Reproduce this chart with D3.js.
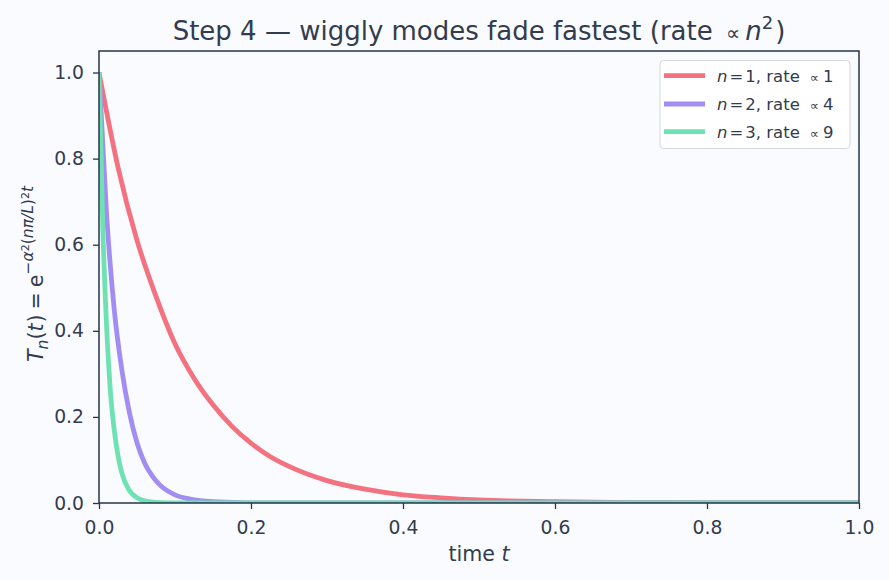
<!DOCTYPE html>
<html><head><meta charset="utf-8">
<script src="https://cdn.jsdelivr.net/npm/d3@7/dist/d3.min.js"></script>
<style>
html,body{margin:0;padding:0;background:#fafbfe;}
svg{display:block;font-family:"DejaVu Sans",sans-serif;}
</style></head>
<body><svg id="c" width="889" height="580"></svg>
<script>
// ---- data ----
const seriesNames = ["n1", "n2", "n3"];
const n1T = [0, 0.025, 0.05, 0.075, 0.1, 0.125, 0.15, 0.175, 0.2, 0.225, 0.25, 0.3, 0.35, 0.4, 0.45, 0.5, 0.6, 0.7, 0.8, 0.9, 1.0];
const n1Y = [1.0, 0.78, 0.61, 0.48, 0.37, 0.29, 0.228, 0.178, 0.139, 0.108, 0.085, 0.052, 0.032, 0.019, 0.012, 0.007, 0.003, 0.001, 0.0004, 0.0001, 0.0001];
const n2T = [0, 0.01, 0.02, 0.03, 0.04, 0.05, 0.06, 0.07, 0.08, 0.1, 0.12, 0.15, 0.2, 0.3, 1.0];
const n2Y = [1.0, 0.67, 0.45, 0.31, 0.21, 0.14, 0.093, 0.063, 0.042, 0.019, 0.009, 0.003, 0.0004, 0, 0];
const n3T = [0, 0.005, 0.01, 0.015, 0.02, 0.025, 0.03, 0.04, 0.05, 0.06, 0.08, 0.1, 1.0];
const n3Y = [1.0, 0.64, 0.41, 0.26, 0.17, 0.11, 0.07, 0.029, 0.012, 0.005, 0.001, 0.0001, 0];
const legendN = ["1", "2", "3"];
const legendRate = ["1", "4", "9"];
const xTicks = [0, 0.2, 0.4, 0.6, 0.8, 1.0];
const yTicks = [0, 0.2, 0.4, 0.6, 0.8, 1.0];
const colors = ["#f4717f", "#a28ef2", "#6fe2b3"];

const svg = d3.select("#c");
const L = 99, R = 859, T = 51, B = 503;
const x = d3.scaleLinear().domain([0, 1]).range([L, R]);
const y = d3.scaleLinear().domain([0, 1.05]).range([B, T]);
const ink = "#333c4e", frame = "#27344d";
const tickFS = 18.75, labelFS = 20.6, titleFS = 26, legendFS = 16.5;

svg.append("rect").attr("width", 889).attr("height", 580).attr("fill", "#fafbfe");

svg.append("defs").append("clipPath").attr("id", "clip")
  .append("rect").attr("x", L).attr("y", T).attr("width", R - L).attr("height", B - T);

const data = [
  n1T.map((t, i) => [t, n1Y[i]]),
  n2T.map((t, i) => [t, n2Y[i]]),
  n3T.map((t, i) => [t, n3Y[i]])
];
const line = d3.line().x(d => x(d[0])).y(d => y(d[1])).curve(d3.curveMonotoneX);
const g = svg.append("g").attr("clip-path", "url(#clip)");
data.forEach((d, i) => {
  g.append("path").datum(d).attr("d", line).attr("fill", "none")
    .attr("stroke", colors[i]).attr("stroke-width", 4.8).attr("stroke-linejoin", "round");
});

// axes
const xa = svg.append("g").attr("transform", `translate(0,${B})`)
  .call(d3.axisBottom(x).tickValues(xTicks).tickFormat(d3.format(".1f")).tickSize(6).tickPadding(6));
const ya = svg.append("g").attr("transform", `translate(${L},0)`)
  .call(d3.axisLeft(y).tickValues(yTicks).tickFormat(d3.format(".1f")).tickSize(6).tickPadding(9));
[xa, ya].forEach(a => {
  a.select(".domain").remove();
  a.selectAll("line").attr("stroke", frame).attr("stroke-width", 1.3);
  a.selectAll("text").attr("fill", ink).attr("font-size", tickFS).attr("font-family", "DejaVu Sans");
});
xa.selectAll("text").attr("dy", "1.0em");

// frame
svg.append("rect").attr("x", L).attr("y", T).attr("width", R - L).attr("height", B - T)
  .attr("fill", "none").attr("stroke", frame).attr("stroke-width", 1.5);

// title
const title = svg.append("text").attr("x", (L + R) / 2).attr("y", 40).attr("text-anchor", "middle")
  .attr("fill", ink).attr("font-size", titleFS);
title.append("tspan").text("Step 4 — wiggly modes fade fastest (rate ");
title.append("tspan").text("\u221D").attr("font-size", 20).attr("dx", 5);
title.append("tspan").text("n").attr("font-style", "italic").attr("dx", 5);
title.append("tspan").text("2").attr("font-size", 18).attr("dy", -11);
title.append("tspan").text(")").attr("dy", 11).attr("dx", 2);

// x label
const xl = svg.append("text").attr("x", (L + R) / 2).attr("y", 561).attr("text-anchor", "middle")
  .attr("fill", ink).attr("font-size", labelFS);
xl.append("tspan").text("time ");
xl.append("tspan").text("t").attr("font-style", "italic");

// y label
const sm = 15.5, tiny = 11;
const yl = svg.append("text").attr("transform", "translate(43,274) rotate(-90)").attr("text-anchor", "middle")
  .attr("fill", ink).attr("font-size", labelFS);
yl.append("tspan").text("T").attr("font-style", "italic");
yl.append("tspan").text("n").attr("font-style", "italic").attr("font-size", sm).attr("dy", 5);
yl.append("tspan").text("(").attr("dy", -5);
yl.append("tspan").text("t").attr("font-style", "italic");
yl.append("tspan").text(")").attr("dx", 1);
yl.append("tspan").text("=").attr("dx", 5);
yl.append("tspan").text("e").attr("dx", 5);
yl.append("tspan").text("\u2212").attr("font-size", sm).attr("dy", -10);
yl.append("tspan").text("\u03B1").attr("font-size", sm).attr("font-style", "italic");
yl.append("tspan").text("2").attr("font-size", tiny).attr("dy", -4);
yl.append("tspan").text("(").attr("font-size", sm).attr("dy", 4);
yl.append("tspan").text("n\u03C0/L").attr("font-size", sm).attr("font-style", "italic");
yl.append("tspan").text(")").attr("font-size", sm);
yl.append("tspan").text("2").attr("font-size", tiny).attr("dy", -4);
yl.append("tspan").text("t").attr("font-size", sm).attr("font-style", "italic").attr("dy", 4);

// legend
const lg = svg.append("g");
lg.append("rect").attr("x", 660).attr("y", 60.5).attr("width", 190).attr("height", 88).attr("rx", 3.5)
  .attr("fill", "#ffffff").attr("fill-opacity", 0.85).attr("stroke", "#d6d8de").attr("stroke-width", 1);
const rowY = [75.7, 104, 131.7];
seriesNames.forEach((s, i) => {
  const yy = rowY[i];
  lg.append("line").attr("x1", 664).attr("x2", 705).attr("y1", yy).attr("y2", yy)
    .attr("stroke", colors[i]).attr("stroke-width", 4.8);
  const t = lg.append("text").attr("x", 717).attr("y", yy + 6).attr("fill", ink).attr("font-size", legendFS);
  t.append("tspan").text("n").attr("font-style", "italic");
  t.append("tspan").text("=").attr("dx", 2);
  t.append("tspan").text(legendN[i]).attr("dx", 2);
  t.append("tspan").text(", rate");
  t.append("tspan").text("\u221D").attr("font-size", 13).attr("dx", 10);
  t.append("tspan").text(legendRate[i]).attr("dx", 4);
});
</script></body></html>
